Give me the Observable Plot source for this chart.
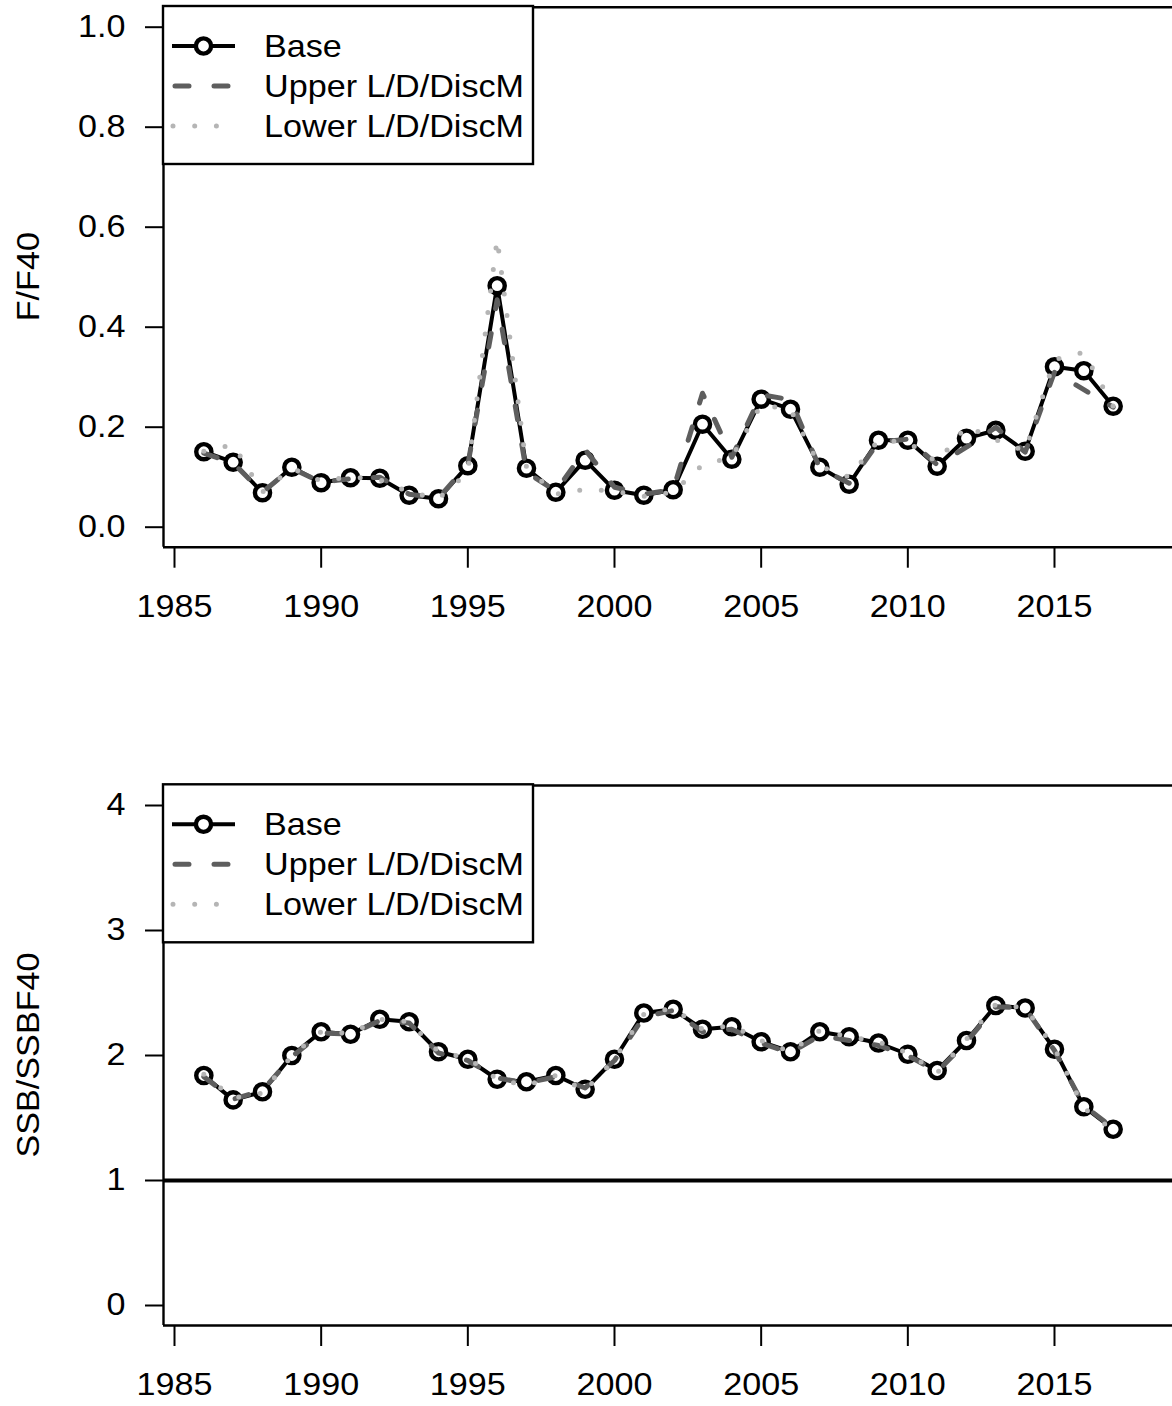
<!DOCTYPE html>
<html><head><meta charset="utf-8">
<script src="https://cdn.jsdelivr.net/npm/d3@7"></script>
<script src="https://cdn.jsdelivr.net/npm/@observablehq/plot@0.6"></script>
<style>
html,body{margin:0;padding:0;background:#fff;overflow:hidden;}
svg{display:block;overflow:hidden;}
</style></head><body><div id="top"></div><div id="bottom"></div>
<script>
const years = [1986,1987,1988,1989,1990,1991,1992,1993,1994,1995,1996,1997,1998,1999,2000,2001,
               2002,2003,2004,2005,2006,2007,2008,2009,2010,2011,2012,2013,2014,2015,2016,2017];

const fBase  = [0.151,0.130,0.069,0.120,0.089,0.099,0.098,0.064,0.057,0.123,0.483,0.118,0.070,0.134,0.074,0.064,
                0.075,0.206,0.136,0.256,0.236,0.120,0.086,0.174,0.174,0.122,0.178,0.194,0.152,0.321,0.313,0.242];
const fUpper = [0.148,0.128,0.070,0.118,0.090,0.097,0.100,0.066,0.058,0.125,0.455,0.110,0.072,0.155,0.080,0.066,
                0.075,0.268,0.140,0.265,0.255,0.118,0.088,0.170,0.176,0.125,0.160,0.200,0.150,0.310,0.275,0.240];
const fLower = [0.152,0.165,0.070,0.118,0.092,0.101,0.095,0.070,0.057,0.110,0.577,0.120,0.066,0.076,0.072,0.062,
                0.070,0.125,0.140,0.245,0.235,0.122,0.100,0.174,0.170,0.130,0.202,0.175,0.152,0.335,0.350,0.242];

const sBase  = [1.84,1.645,1.71,2.00,2.19,2.17,2.29,2.27,2.03,1.97,1.81,1.79,1.84,1.73,1.97,2.34,
                2.37,2.21,2.23,2.11,2.03,2.19,2.15,2.10,2.01,1.88,2.12,2.40,2.38,2.05,1.59,1.41];
const sUpper = [1.83,1.65,1.72,1.99,2.18,2.17,2.28,2.26,2.02,1.96,1.82,1.78,1.83,1.74,1.96,2.31,
                2.36,2.19,2.21,2.10,2.02,2.16,2.12,2.08,2.00,1.87,2.11,2.39,2.38,2.04,1.60,1.42];
const sLower = [1.85,1.66,1.70,2.00,2.19,2.18,2.29,2.27,2.03,1.98,1.81,1.76,1.84,1.72,1.97,2.33,
                2.38,2.21,2.24,2.12,2.03,2.20,2.15,2.11,2.02,1.86,2.13,2.41,2.38,2.06,1.58,1.40];

const xTicks = [1985,1990,1995,2000,2005,2010,2015];
const fTicks = [0.0,0.2,0.4,0.6,0.8,1.0];
const sTicks = [0,1,2,3,4];
const legendLabels = ["Base","Upper L/D/DiscM","Lower L/D/DiscM"];
const refValue = 1;

const FONT = "'Liberation Sans', Arial, Helvetica, sans-serif";
const FS = 30.5;
const STRETCH = 1.12;
const xDomain = [1984.625, 2019.023];

const BASE = {stroke: "black", strokeWidth: 4};
const DOT = {r: 7.6, stroke: "black", strokeWidth: 4.4, fill: "white"};
const UP = {stroke: "#5e5e5e", strokeWidth: 5, strokeDasharray: "14,25", strokeLinecap: "round"};
const LO = {stroke: "#b5b5b5", strokeWidth: 5, strokeDasharray: "0,21.7", strokeLinecap: "round"};

function panel(opts) {
  const {base, upper, lower, yDomain, yTicks, yFormat, marginTop, marginBottom, ylabel, refLine} = opts;
  const rows = years.map((year, i) => ({year, base: base[i], upper: upper[i], lower: lower[i]}));
  const marks = [
    Plot.ruleY([yDomain[1], yDomain[0]], {stroke: "black", strokeWidth: 2.4}),
    Plot.ruleX([xDomain[0]], {stroke: "black", strokeWidth: 2.4}),
    Plot.axisY({ticks: yTicks, tickFormat: yFormat, tickSize: 18, tickPadding: 20, fontSize: FS, strokeWidth: 2, label: null}),
    Plot.axisX({ticks: xTicks, tickFormat: d3.format("d"), tickSize: 21, tickPadding: 27, fontSize: FS, strokeWidth: 2, label: null})
  ];
  if (refLine != null) marks.push(Plot.ruleY([refLine], {stroke: "black", strokeWidth: 4}));
  marks.push(
    Plot.line(rows, {x: "year", y: "base", ...BASE}),
    Plot.dot(rows, {x: "year", y: "base", ...DOT}),
    Plot.line(rows, {x: "year", y: "upper", ...UP}),
    Plot.line(rows, {x: "year", y: "lower", ...LO})
  );
  const svg = Plot.plot({
    width: 1172, height: 703,
    marginLeft: 163, marginRight: 0, marginTop, marginBottom,
    x: {domain: xDomain},
    y: {domain: yDomain},
    style: {fontFamily: FONT, fontSize: FS + "px", color: "black", background: "white"},
    marks
  });
  const s = d3.select(svg);
  // y-axis title
  const cy = (marginTop + (703 - marginBottom)) / 2;
  s.append("text").attr("transform", `translate(28,${cy}) rotate(-90)`)
    .attr("text-anchor", "middle").attr("dy", "0.35em")
    .attr("font-family", FONT).attr("font-size", FS).attr("fill", "black").text(ylabel);
  // legend
  const top = marginTop - 0.7;
  const g = s.append("g");
  g.append("rect").attr("x", 163).attr("y", top).attr("width", 370).attr("height", 158)
    .attr("fill", "white").attr("stroke", "black").attr("stroke-width", 2.4);
  legendLabels.forEach((lab, i) => {
    const y = top + 40 + i * 40;
    if (i === 0) {
      g.append("line").attr("x1", 172).attr("x2", 235).attr("y1", y).attr("y2", y)
        .attr("stroke", BASE.stroke).attr("stroke-width", BASE.strokeWidth);
      g.append("circle").attr("cx", 203.5).attr("cy", y).attr("r", DOT.r)
        .attr("fill", "white").attr("stroke", "black").attr("stroke-width", DOT.strokeWidth);
    } else if (i === 1) {
      g.append("line").attr("x1", 175).attr("x2", 235).attr("y1", y).attr("y2", y)
        .attr("stroke", UP.stroke).attr("stroke-width", UP.strokeWidth)
        .attr("stroke-dasharray", "14,25").attr("stroke-linecap", "round");
    } else {
      g.append("line").attr("x1", 173).attr("x2", 235).attr("y1", y).attr("y2", y)
        .attr("stroke", LO.stroke).attr("stroke-width", LO.strokeWidth)
        .attr("stroke-dasharray", "0,21.7").attr("stroke-linecap", "round");
    }
    g.append("text").attr("transform", `translate(264,${y})`).attr("dy", "0.36em")
      .attr("text-anchor", "start")
      .attr("font-family", FONT).attr("font-size", FS).attr("fill", "black").text(lab);
  });
  // horizontally stretch all text like the reference rendering
  s.selectAll("text").each(function() {
    const t = this.getAttribute("transform") || "";
    this.setAttribute("transform", (t + ` scale(${STRETCH},1)`).trim());
  });
  return svg;
}

document.getElementById("top").appendChild(panel({
  base: fBase, upper: fUpper, lower: fLower,
  yDomain: [-0.04, 1.04], yTicks: fTicks, yFormat: d3.format(".1f"),
  marginTop: 6.7, marginBottom: 703 - 546.7, ylabel: "F/F40", refLine: null
}));
document.getElementById("bottom").appendChild(panel({
  base: sBase, upper: sUpper, lower: sLower,
  yDomain: [-0.16, 4.16], yTicks: sTicks, yFormat: d3.format("d"),
  marginTop: 82, marginBottom: 81, ylabel: "SSB/SSBF40", refLine: refValue
}));
</script></body></html>
